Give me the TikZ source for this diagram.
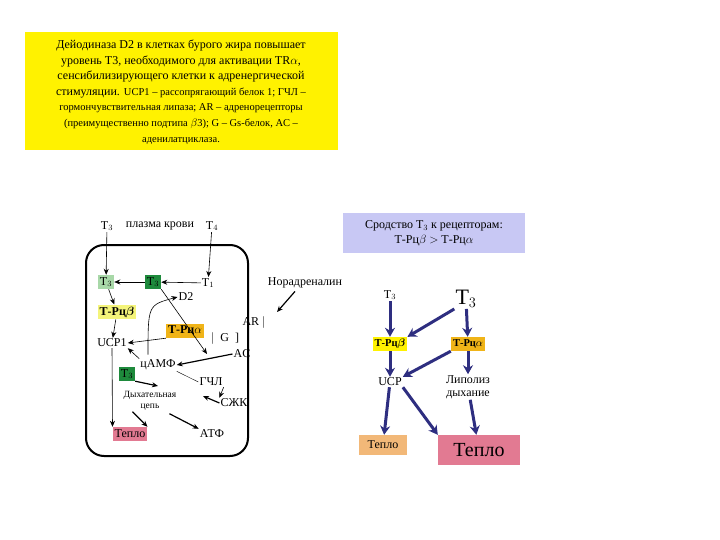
\documentclass[tikz,border=0pt]{standalone}
\usepackage{amsmath}
\usepackage{amssymb}
\usepackage{fontspec}
\setmainfont{Liberation Serif}
\usetikzlibrary{arrows.meta}

\definecolor{lgreen}{HTML}{A8D8A8}
\definecolor{dgreen}{HTML}{1E8A3C}
\definecolor{lyellow}{HTML}{F4F47A}
\definecolor{rorange}{HTML}{F0B418}
\definecolor{rpink}{HTML}{E27A92}
\definecolor{rtan}{HTML}{F2B878}
\definecolor{rblue}{HTML}{C8C8F4}
\definecolor{rnavy}{HTML}{2E2E80}

\newcommand{\smalltxt}{\fontsize{10.5}{15.6}\selectfont}

\tikzset{
  lbl/.style={font=\fontsize{12}{13}\selectfont, inner sep=1pt},
  boxed/.style={lbl, minimum height=14pt, inner sep=2pt},
  thin arrow/.style={-{Stealth[length=6pt,width=5pt]}, line width=0.6pt},
  fat arrow/.style={-{Stealth[length=9pt,width=10pt]}, line width=3pt, rnavy}
}

\begin{document}
\begin{tikzpicture}[x=1pt,y=-1pt]
        \useasboundingbox (0,0) rectangle (720,540);

        % note box
        \fill[yellow] (25,32) rectangle (338,150);
        \node[align=center, font=\fontsize{12}{15.6}\selectfont] (note) at (181,92)
          {Дейодиназа D2 в клетках бурого жира повышает\\
           уровень Т3, необходимого для активации TR$\alpha$,\\
           сенсибилизирующего клетки к адренергической\\
           стимуляции. \smalltxt UCP1 -- рассопрягающий белок 1; ГЧЛ --\\
           \smalltxt гормончувствительная липаза; AR -- адренорецепторы\\
           \smalltxt (преимущественно подтипа $\beta$3); G -- Gs-белок, AC --\\
           \smalltxt аденилатциклаза.};

        % cell
        \draw[line width=2pt, rounded corners=18pt] (86,245) rectangle (248,456);

        \node[lbl] (t3p) at (107,226) {Т$_3$};
        \node[lbl] (plasma) at (160,226) {плазма крови};
        \node[lbl] (t4p) at (212,226) {Т$_4$};
        \node[boxed, fill=lgreen] (t3a) at (106,282) {Т$_3$};
        \node[boxed, fill=dgreen] (t3b) at (153,282) {Т$_3$};
        \node[lbl] (t1) at (208,283) {Т$_1$};
        \node[lbl] (d2) at (186,297) {D2};
        \node[boxed, fill=lyellow, font=\bfseries\fontsize{12}{13}\selectfont] (rb) at (117,312) {Т-Рц$\boldsymbol\beta$};
        \node[boxed, fill=rorange, font=\bfseries\fontsize{12}{13}\selectfont] (ra) at (185,331) {Т-Рц$\alpha$};
        \node[lbl] (ucp1) at (112,343) {UCP1};
        \node[lbl] (g) at (225,338) {$|$\ \ G\ \ ]};
        \node[lbl] (ar) at (254,322) {AR\ $|$};
        \node[lbl] (nor) at (305,283) {Норадреналин};
        \node[lbl] (ac) at (242,354) {AC};
        \node[lbl] (camp) at (158,365) {цАМФ};
        \node[boxed, fill=dgreen] (t3c) at (127,374) {Т$_3$};
        \node[lbl] (gchl) at (211,382) {ГЧЛ};
        \node[lbl, align=center, font=\fontsize{9.5}{11}\selectfont] (chain) at (150,401) {Дыхательная\\цепь};
        \node[lbl] (ffa) at (234,403) {СЖК};
        \node[boxed, fill=rpink] (heat) at (130,434) {Тепло};
        \node[lbl] (atp) at (212,434) {АТФ};

        \draw[thin arrow] (t3p) -- (t3a);
        \draw[thin arrow] (t4p) -- (t1);
        \draw[thin arrow] (t1) -- (t3b);
        \draw[thin arrow] (t3b) -- (t3a);
        \draw[thin arrow] (t3a) -- (rb);
        \draw[thin arrow] (rb) -- (ucp1);
        \draw[thin arrow] (t3b.south east) -- (207,354);
        \draw[thin arrow] (camp.north) ++(-10,-4) .. controls (148,305) .. (d2.west);
        \draw[thin arrow] (ra.south west) -- (ucp1.east);
        \draw[thin arrow, line width=1.2pt] (ac.west) -- (camp.east);
        \draw[thin arrow] (camp.north west) -- (ucp1.south east);
        \draw (camp.south east) -- (gchl.west);
        \draw[thin arrow] (gchl.south east) -- (ffa.north west);
        \draw[thin arrow, line width=1.2pt] (nor.south) ++(-10,2) -- (277,312);
        \draw[thin arrow, line width=1.2pt] (t3c.south east) -- (158,386);
        \draw[thin arrow, line width=1.2pt] (ffa.west) -- (203,396);
        \draw[thin arrow, line width=1.2pt] (chain.south west) ++(10,0) -- (heat.north east);
        \draw[thin arrow, line width=1.2pt] (chain.south east) ++(-8,2) -- (atp.north west);
        \draw[thin arrow] (ucp1.south) -- (heat.north west);

        % right panel
        \fill[rblue] (343,213) rectangle (525,253);
        \node[align=center, font=\fontsize{12}{15}\selectfont] (aff) at (434,233)
          {Сродство Т$_3$ к рецепторам:\\Т-Рц$\beta$ $>$ Т-Рц$\alpha$};

        \node[lbl, font=\fontsize{12}{13}\selectfont] (st3) at (390,295) {Т$_3$};
        \node[lbl, font=\fontsize{22}{24}\selectfont] (bt3) at (466,299) {Т$_3$};
        \node[boxed, fill=yellow, font=\bfseries\fontsize{10.5}{12}\selectfont] (srb) at (390,344) {Т-Рц$\boldsymbol\beta$};
        \node[boxed, fill=rorange, font=\bfseries\fontsize{10.5}{12}\selectfont] (sra) at (468,344) {Т-Рц$\alpha$};
        \node[lbl] (sucp) at (390,382) {UCP};
        \node[lbl, align=center] (lip) at (468,387) {Липолиз\\дыхание};
        \node[lbl, fill=rtan, minimum width=48pt, minimum height=20pt] (sheat) at (383,445) {Тепло};
        \node[lbl, fill=rpink, minimum width=82pt, minimum height=30pt, font=\fontsize{20}{22}\selectfont] (bheat) at (479,450) {Тепло};

        \draw[fat arrow] (st3) -- (srb);
        \draw[fat arrow] (bt3.south west) -- (srb.north east);
        \draw[fat arrow] (bt3) -- (sra);
        \draw[fat arrow] (srb) -- (sucp);
        \draw[fat arrow] (sra.south west) -- (sucp.north east);
        \draw[fat arrow] (sra) -- (lip);
        \draw[fat arrow] (sucp) -- (sheat);
        \draw[fat arrow] (sucp.south east) -- (bheat.north west);
        \draw[fat arrow] (lip) -- (bheat);
    \end{tikzpicture}
\end{document}
